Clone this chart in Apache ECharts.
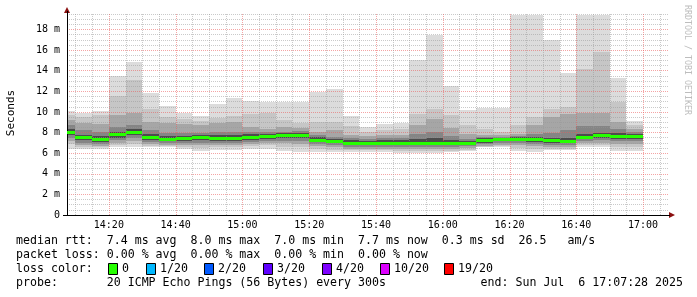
<!DOCTYPE html>
<html><head><meta charset="utf-8">
<script src="https://cdn.jsdelivr.net/npm/echarts@6/dist/echarts.min.js"></script>
<style>html,body{margin:0;padding:0;background:#fff}#c{width:697px;height:297px}</style>
</head><body><div id="c"></div>
<script>
// ---- data (bin end times, 5-minute steps) ----
const times = ['14:10','14:15','14:20','14:25','14:30','14:35','14:40','14:45','14:50','14:55',
  '15:00','15:05','15:10','15:15','15:20','15:25','15:30','15:35','15:40','15:45',
  '15:50','15:55','16:00','16:05','16:10','16:15','16:20','16:25','16:30','16:35',
  '16:40','16:45','16:50','16:55','17:00'];
// smoke bands in ms: hi1/lo1 outermost (lightest) ... hi5/lo5 innermost (darkest)
const hi1 = [10.06,9.94,10.10,13.48,14.84,11.84,10.55,9.90,9.58,10.74,11.35,11.10,10.95,10.95,11.00,11.93,12.19,9.58,8.55,8.80,8.94,15.00,17.50,12.48,10.23,10.39,10.39,19.38,19.38,16.94,13.77,19.38,19.38,13.29,9.10];
const hi2 = [9.75,9.5,9.7,11.55,13.05,10.3,9.5,9.3,9.1,9.4,9.6,9.8,9.85,9.2,8.9,9.0,9.0,8.6,8.1,8.2,8.3,9.84,10.3,9.7,8.7,8.3,8.1,8.7,9.52,10.3,10.45,14.2,15.8,10.97,8.7];
const hi3 = [9.2,8.9,8.8,9.7,9.9,9.0,8.9,8.8,8.7,8.95,9.0,8.55,8.3,8.55,8.4,8.1,8.2,7.8,7.7,7.75,7.75,8.7,9.35,8.4,7.9,7.75,7.75,7.9,8.7,9.5,9.8,9.85,9.85,9.03,8.3];
const hi4 = [8.7,8.25,8.05,8.5,8.7,8.2,8.0,8.0,7.95,8.1,8.1,8.1,8.05,8.1,8.15,7.8,7.6,7.5,7.4,7.45,7.45,7.9,8.1,7.7,7.35,7.55,7.6,7.65,7.9,8.0,8.2,8.6,8.6,8.3,8.05];
const hi5 = [8.3,7.8,7.65,8.1,8.3,7.85,7.7,7.7,7.75,7.75,7.75,7.85,7.85,7.95,7.95,7.55,7.35,7.25,7.2,7.25,7.25,7.4,7.5,7.3,7.2,7.45,7.5,7.55,7.6,7.5,7.5,7.9,8.0,7.95,7.9];
const median = [8.03,7.55,7.35,7.84,8.03,7.58,7.42,7.48,7.55,7.48,7.48,7.58,7.65,7.74,7.77,7.32,7.16,7.03,7.03,7.03,7.03,7.03,7.03,7.0,7.0,7.26,7.39,7.39,7.39,7.23,7.2,7.58,7.74,7.68,7.65];
const lo5 = [7.75,7.25,7.1,7.5,7.75,7.3,7.15,7.2,7.25,7.2,7.2,7.3,7.4,7.45,7.45,7.05,6.95,6.8,6.8,6.8,6.8,6.8,6.8,6.75,6.8,7.0,7.15,7.15,7.1,7.0,7.0,7.35,7.45,7.4,7.4];
const lo4 = [7.45,7.0,6.9,7.25,7.45,7.05,6.95,6.95,7.0,7.0,7.0,7.1,7.15,7.2,7.2,6.85,6.75,6.6,6.6,6.6,6.6,6.6,6.6,6.55,6.65,6.85,6.95,6.95,6.9,6.8,6.8,7.2,7.25,7.15,7.15];
const lo3 = [7.15,6.8,6.7,7.0,7.15,6.85,6.8,6.75,6.75,6.75,6.8,6.9,6.95,6.95,6.9,6.65,6.55,6.45,6.45,6.45,6.4,6.4,6.4,6.4,6.5,6.7,6.8,6.75,6.7,6.6,6.6,7.0,7.0,6.9,6.9];
const lo2 = [6.85,6.6,6.55,6.8,6.85,6.7,6.65,6.55,6.5,6.55,6.55,6.7,6.75,6.6,6.55,6.4,6.35,6.3,6.3,6.3,6.25,6.25,6.25,6.25,6.35,6.6,6.65,6.5,6.45,6.45,6.45,6.8,6.8,6.6,6.6];
const lo1 = [6.45,6.4,6.45,6.55,6.6,6.6,6.55,6.4,6.22,6.35,6.35,6.45,6.45,6.22,6.13,6.13,6.13,6.13,6.13,6.1,6.05,6.05,6.05,6.1,6.2,6.55,6.55,6.22,6.13,6.35,6.35,6.6,6.6,6.22,6.22];

const xTickLabels = ['14:20','14:40','15:00','15:20','15:40','16:00','16:20','16:40','17:00'];
const rangeStart = '14:07:28', rangeEnd = '17:07:28';
const stepMinutes = 5;
const lossLabels = ['0','1/20','2/20','3/20','4/20','10/20','19/20'];
const lossColors = ['#26ff00','#00b8ff','#0059ff','#5e00ff','#7e00ff','#dd00ff','#ff0000'];
const lossBoxX = [108,146,204,263,322,380,444];
const statLines = [
  'median rtt:  7.4 ms avg  8.0 ms max  7.0 ms min  7.7 ms now  0.3 ms sd  26.5   am/s',
  'packet loss: 0.00 % avg  0.00 % max  0.00 % min  0.00 % now'
];
const probeText = 'probe:       20 ICMP Echo Pings (56 Bytes) every 300s';
const endText = 'end: Sun Jul  6 17:07:28 2025';

// ---- helpers ----
function toMin(s){ const p = s.split(':').map(Number); return p[0]*60 + p[1] + (p[2]||0)/60; }
function fmt(v){ const h = Math.floor(v/60), m = Math.round(v - h*60); return h + ':' + String(m).padStart(2,'0'); }
const bandColors = ['#dcdcdc','#c6c6c6','#a6a6a6','#858585','#4c4c4c'];
const MONO = '"DejaVu Sans Mono", monospace';
const MAJOR = 'rgba(235,90,90,0.55)', MINOR = 'rgba(150,150,150,0.5)';

const smokeData = times.map((t,i)=>[toMin(t), lo1[i],hi1[i], lo2[i],hi2[i], lo3[i],hi3[i], lo4[i],hi4[i], lo5[i],hi5[i]]);
const medData = times.map((t,i)=>[toMin(t), median[i]]);
const xMin = toMin(rangeStart), xMax = toMin(rangeEnd);
const gridData = [];
for (let t = Math.ceil(xMin/stepMinutes)*stepMinutes; t < xMax; t += stepMinutes) gridData.push([t, t % 20 === 0 ? 1 : 0]);

function renderSmoke(params, api){
  const cs = params.coordSys;
  const tEnd = api.value(0);
  let xa = Math.round(api.coord([tEnd - stepMinutes, 0])[0]);
  let xb = Math.round(api.coord([tEnd, 0])[0]);
  xa = Math.max(xa, cs.x); xb = Math.min(xb, cs.x + cs.width);
  const children = [];
  for (let k = 0; k < 5; k++){
    const yl = Math.round(api.coord([tEnd, api.value(1+2*k)])[1]);
    const yh = Math.round(api.coord([tEnd, api.value(2+2*k)])[1]);
    children.push({type:'rect', shape:{x:xa, y:yh, width:xb-xa, height:yl-yh}, style:{fill:bandColors[k]}});
  }
  return {type:'group', children};
}
function renderMedian(params, api){
  const cs = params.coordSys;
  const tEnd = api.value(0);
  let xa = Math.round(api.coord([tEnd - stepMinutes, 0])[0]);
  let xb = Math.round(api.coord([tEnd, 0])[0]);
  xa = Math.max(xa, cs.x); xb = Math.min(xb, cs.x + cs.width);
  const y = Math.round(api.coord([tEnd, api.value(1)])[1]);
  return {type:'rect', shape:{x:xa, y:y-1, width:xb-xa, height:3}, style:{fill:lossColors[0]}};
}
// dotted vertical grid line, drawn as 1px dots every 2px
function renderVGrid(params, api){
  const cs = params.coordSys;
  const x = Math.round(api.coord([api.value(0), 0])[0]);
  const fill = api.value(1) === 1 ? MAJOR : MINOR;
  const children = [];
  for (let y = Math.round(cs.y); y < cs.y + cs.height; y += 2)
    children.push({type:'rect', shape:{x:x, y:y, width:1, height:1}, style:{fill}});
  return {type:'group', children};
}

const graphics = [
  {type:'text', x:11, y:113, rotation:Math.PI/2, style:{text:'Seconds', font:'11px '+MONO, fill:'#000', align:'center', verticalAlign:'middle'}},
  {type:'text', x:687, y:60, rotation:-Math.PI/2, style:{text:'RRDTOOL / TOBI OETIKER', font:'8.3px '+MONO, fill:'#bdbdbd', align:'center', verticalAlign:'middle'}},
  {type:'polygon', shape:{points:[[64,13],[70,13],[67,7]]}, style:{fill:'#8b1010'}},
  {type:'polygon', shape:{points:[[669,212],[669,218],[675,215]]}, style:{fill:'#8b1010'}},
  {type:'line', shape:{x1:668, y1:215.5, x2:670, y2:215.5}, style:{stroke:'#000', lineWidth:1}},
  {type:'line', shape:{x1:67.5, y1:14, x2:67.5, y2:11}, style:{stroke:'#000', lineWidth:1}},
  {type:'line', shape:{x1:63, y1:215.5, x2:67, y2:215.5}, style:{stroke:'#000', lineWidth:1}}
];
const rowY = [241, 255, 269, 283];
statLines.forEach((s,i)=>graphics.push({type:'text', x:16, y:rowY[i], style:{text:s, font:'11.6px '+MONO, fill:'#000', verticalAlign:'middle'}}));
graphics.push({type:'text', x:16, y:rowY[2], style:{text:'loss color:', font:'11.6px '+MONO, fill:'#000', verticalAlign:'middle'}});
lossLabels.forEach((l,i)=>{
  graphics.push({type:'rect', shape:{x:lossBoxX[i]+0.5, y:263.5, width:9, height:11}, style:{fill:lossColors[i], stroke:'#000', lineWidth:1}});
  graphics.push({type:'text', x:lossBoxX[i]+14, y:rowY[2], style:{text:l, font:'11.6px '+MONO, fill:'#000', verticalAlign:'middle'}});
});
graphics.push({type:'text', x:16, y:rowY[3], style:{text:probeText, font:'11.6px '+MONO, fill:'#000', verticalAlign:'middle'}});
graphics.push({type:'text', x:683, y:rowY[3], style:{text:endText, font:'11.6px '+MONO, fill:'#000', align:'right', verticalAlign:'middle'}});

const chart = echarts.init(document.getElementById('c'), null, {renderer:'canvas'});
chart.setOption({
  animation:false,
  backgroundColor:'#fff',
  grid:{left:67, right:29, top:14, bottom:82, containLabel:false},
  xAxis:{type:'value', min:xMin, max:xMax, z:3,
    axisLine:{show:true, onZero:false, lineStyle:{color:'#000', width:1}},
    axisTick:{show:false},
    splitLine:{show:false},
    axisLabel:{customValues:xTickLabels.map(toMin), formatter:v=>fmt(v), color:'#000', fontFamily:MONO, fontSize:10, margin:5}
  },
  yAxis:{type:'value', min:0, max:19.5, interval:0.5, z:3,
    axisLine:{show:true, lineStyle:{color:'#000', width:1}},
    axisTick:{show:false},
    splitLine:{show:true, lineStyle:{color:[MAJOR, MINOR, MINOR, MINOR], width:1, type:[1,1]}},
    axisLabel:{formatter:v=> v === 0 ? '0' : (Math.abs(v % 2) < 1e-9 ? v + ' m' : ''), color:'#000', fontFamily:MONO, fontSize:10, margin:7}
  },
  series:[
    {type:'custom', name:'smoke', z:1, clip:true, renderItem:renderSmoke, data:smokeData, silent:true,
      encode:{x:0, y:[1,2]}},
    {type:'custom', name:'vgrid', z:3, renderItem:renderVGrid, data:gridData, silent:true, encode:{x:0}},
    {type:'custom', name:'median', z:5, clip:true, renderItem:renderMedian, data:medData, silent:true, encode:{x:0, y:1}}
  ],
  graphic:graphics
});
</script></body></html>
